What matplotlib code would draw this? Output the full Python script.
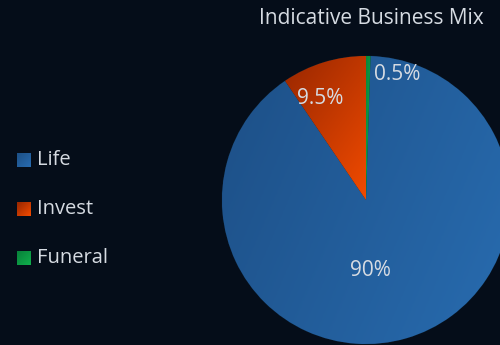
import numpy as np
import matplotlib.pyplot as plt
from matplotlib.colors import LinearSegmentedColormap

plt.rcParams['font.family'] = ['Open Sans', 'DejaVu Sans']

labels = ["Life", "Invest", "Funeral"]
shares = [90, 9.5, 0.5]
pct_text = ["90%", "9.5%", "0.5%"]
title = "Indicative Business Mix"

bg = "#050d19"
txt = "#d6dbe2"
base_colors = ["#22609c", "#c03500", "#0a9a42"]
grad_colors = [("#1d4f86", "#286cb0"), ("#962600", "#f44c00"), ("#08803a", "#10b04c")]

fig = plt.figure(figsize=(5, 3.45), dpi=100, facecolor=bg)
ax = fig.add_axes([0, 0, 1, 1])
ax.set_facecolor(bg)

cx, cy, r = 366, 145, 144
wedges, _ = ax.pie(shares, colors=base_colors, startangle=90 - 3.6 * shares[2],
                   counterclock=False, center=(cx, cy), radius=r,
                   wedgeprops=dict(linewidth=0.6, edgecolor="#0a1a2a"),
                   frame=True)
ax.set_xlim(0, 500)
ax.set_ylim(0, 345)
ax.set_aspect("equal")
ax.axis("off")

# gradient fills clipped to each wedge (dark upper-left -> bright lower-right)
g = np.linspace(0, 1, 200)
GX, GY = np.meshgrid(g, g)


def grad_fill(patch, c0, c1, extent, wx, wy):
    cmap = LinearSegmentedColormap.from_list("g", [c0, c1])
    field = wx * GX + wy * GY
    im = ax.imshow(field, cmap=cmap, extent=extent, origin="upper", zorder=1.5,
                   interpolation="bilinear", aspect="auto")
    im.set_clip_path(patch)


grad_fill(wedges[0], *grad_colors[0], (cx - r, cx + r, cy - r, cy + r), 0.7, 0.3)
grad_fill(wedges[1], *grad_colors[1], (cx - 85, cx + 2, cy - 5, cy + r), 0.45, 0.55)
grad_fill(wedges[2], *grad_colors[2], (cx - 2, cx + 6, cy, cy + r), 0.5, 0.5)

fs = 15
ax.text(cx + 4, 345 - 270, pct_text[0], color=txt, fontsize=fs, ha="center", va="center", zorder=3)
ax.text(320, 345 - 98, pct_text[1], color=txt, fontsize=fs, ha="center", va="center", zorder=3)
ax.text(397, 345 - 75, pct_text[2], color=txt, fontsize=fs, ha="center", va="center", zorder=3)

ax.text(371, 345 - 18, title, color=txt, fontsize=15, ha="center", va="center")

# legend
for i, lab in enumerate(labels):
    y = 345 - (160 + 49 * i)
    sq = plt.Rectangle((17, y - 7), 14, 14, facecolor="none", edgecolor="none")
    ax.add_patch(sq)
    grad_fill(sq, *grad_colors[i], (17, 31, y - 7, y + 7), 0.5, 0.5)
    ax.text(37, y, lab, color=txt, fontsize=14.5, ha="left", va="center")

fig.savefig("out.png", dpi=100, facecolor=bg)
